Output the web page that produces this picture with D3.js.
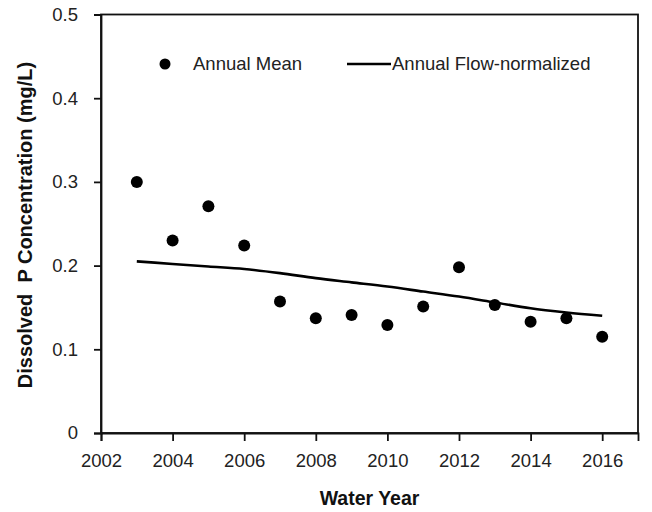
<!DOCTYPE html>
<html><head><meta charset="utf-8">
<script src="https://cdn.jsdelivr.net/npm/d3@7"></script>
<style>
html,body{margin:0;padding:0;background:#fff;}
svg{display:block;font-family:"Liberation Sans",Arial,sans-serif;}
</style></head>
<body>
<svg id="chart" width="652" height="512"></svg>
<script>
const years = [2003,2004,2005,2006,2007,2008,2009,2010,2011,2012,2013,2014,2015,2016];
const annualMean = [0.300,0.230,0.271,0.224,0.157,0.137,0.141,0.129,0.151,0.198,0.153,0.133,0.137,0.115];
const flowNormalized = [0.205,0.202,0.199,0.196,0.191,0.185,0.180,0.175,0.169,0.163,0.156,0.149,0.144,0.140];
const xTicks = [2002,2004,2006,2008,2010,2012,2014,2016];
const yTicks = [0,0.1,0.2,0.3,0.4,0.5];
const legendLabels = ["Annual Mean","Annual Flow-normalized"];
const xTitle = "Water Year";
const yTitle = "Dissolved\u00a0\u00a0P Concentration (mg/L)";

const svg = d3.select("#chart");
const L = 101, R = 638, T = 14.5, B = 433;
const x = d3.scaleLinear().domain([2002,2017]).range([L,R]);
const y = d3.scaleLinear().domain([0,0.5]).range([B,T]);
const textColor = "#222";

// frame
svg.append("rect").attr("x",L).attr("y",T).attr("width",R-L).attr("height",B-T)
  .attr("fill","none").attr("stroke","#111").attr("stroke-width",1.8);

// x axis
const xAxis = svg.append("g").attr("transform",`translate(0,${B})`)
  .call(d3.axisBottom(x).tickValues(xTicks).tickFormat(d3.format("d")).tickSize(8).tickPadding(13));
xAxis.select(".domain").attr("stroke","#111").attr("stroke-width",1.8);
xAxis.selectAll(".tick line").attr("stroke","#111").attr("stroke-width",1.8);
xAxis.selectAll("text").attr("font-size",18.5).attr("fill",textColor).attr("font-family","Liberation Sans, Arial, sans-serif");

// y axis
const yAxis = svg.append("g").attr("transform",`translate(${L},0)`)
  .call(d3.axisLeft(y).tickValues(yTicks).tickFormat(d => d===0 ? "0" : d3.format(".1f")(d)).tickSize(7).tickPadding(16));
yAxis.select(".domain").attr("stroke","#111").attr("stroke-width",1.8);
yAxis.selectAll(".tick line").attr("stroke","#111").attr("stroke-width",1.8);
yAxis.selectAll("text").attr("font-size",18.5).attr("fill",textColor).attr("font-family","Liberation Sans, Arial, sans-serif");

// titles
svg.append("text").attr("x",(L+R)/2).attr("y",505).attr("text-anchor","middle")
  .attr("font-weight","bold").attr("font-size",19.5).attr("fill","#111").text(xTitle);
svg.append("text").attr("transform",`translate(32,225) rotate(-90)`).attr("text-anchor","middle")
  .attr("font-weight","bold").attr("font-size",20).attr("fill","#111").text(yTitle);

// flow-normalized line
const line = d3.line().x((d,i)=>x(years[i])).y(d=>y(d)).curve(d3.curveMonotoneX);
svg.append("path").datum(flowNormalized).attr("d",line)
  .attr("fill","none").attr("stroke","#000").attr("stroke-width",2.6);

// annual mean points
svg.append("g").selectAll("circle").data(annualMean).join("circle")
  .attr("cx",(d,i)=>x(years[i])).attr("cy",d=>y(d)).attr("r",6).attr("fill","#000");

// legend
const lg = svg.append("g");
lg.append("circle").attr("cx",165).attr("cy",64).attr("r",5.5).attr("fill","#000");
lg.append("text").attr("x",193).attr("y",70).attr("font-size",18.5).attr("fill",textColor).text(legendLabels[0]);
lg.append("line").attr("x1",347).attr("x2",391).attr("y1",64).attr("y2",64).attr("stroke","#000").attr("stroke-width",2.6);
lg.append("text").attr("x",392).attr("y",70).attr("font-size",18.5).attr("fill",textColor).text(legendLabels[1]);
</script>
</body></html>
